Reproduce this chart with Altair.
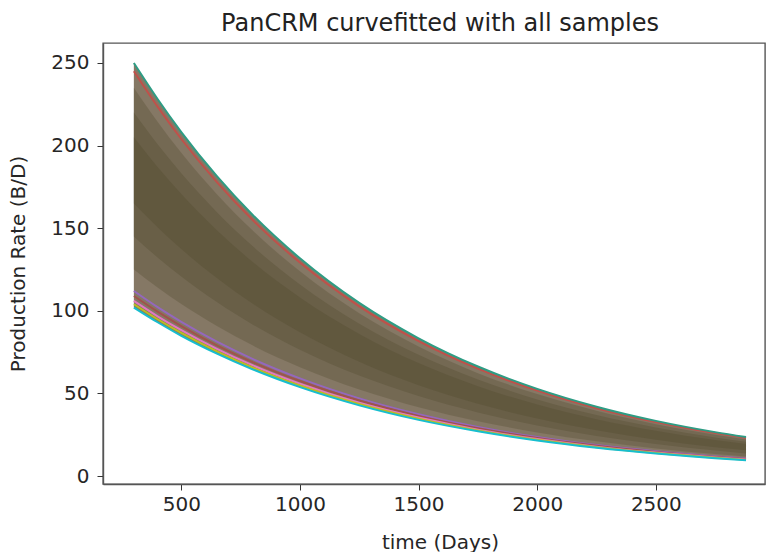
import altair as alt
import pandas as pd

# time points (days)
times = [300, 400, 500, 650, 800, 1000, 1250, 1500, 1750, 2000, 2250, 2500, 2750, 2880]

# edge curves of the bundle of fitted samples (B/D)
top_teal   = [250, 228.2, 208.2, 181.5, 158.2, 131.8, 104.8, 83.4, 66.3, 52.8, 42.0, 33.4, 26.6, 23.6]
top_red    = [245, 223.6, 204.0, 177.9, 155.1, 129.2, 102.7, 81.7, 65.0, 51.7, 41.1, 32.7, 26.0, 23.1]
low_purple = [112, 102.2, 93.3, 81.3, 70.9, 59.1, 47.0, 37.4, 29.7, 23.6, 18.8, 15.0, 11.9, 10.6]
low_brown  = [109, 99.5, 90.8, 79.1, 69.0, 57.5, 45.7, 36.4, 28.9, 23.0, 18.3, 14.6, 11.6, 10.3]
low_pink   = [106, 96.7, 88.3, 77.0, 67.1, 55.9, 44.4, 35.4, 28.1, 22.4, 17.8, 14.2, 11.3, 10.0]
low_olive  = [104, 94.9, 86.6, 75.5, 65.8, 54.8, 43.6, 34.7, 27.6, 22.0, 17.5, 13.9, 11.1, 9.8]
low_cyan   = [102, 93.1, 84.9, 74.1, 64.6, 53.8, 42.8, 34.0, 27.1, 21.5, 17.1, 13.6, 10.8, 9.6]

# progressively denser cores of the bundle (where most sample curves overlap)
core1_low  = [125, 114.1, 104.1, 90.8, 79.1, 65.9, 52.4, 41.7, 33.2, 26.4, 21.0, 16.7, 13.3, 11.8]
core1_high = [235, 214.5, 195.7, 170.6, 148.7, 123.9, 98.5, 78.4, 62.3, 49.6, 39.5, 31.4, 25.0, 22.2]
core2_low  = [145, 132.3, 120.8, 105.3, 91.8, 76.5, 60.8, 48.4, 38.5, 30.6, 24.3, 19.4, 15.4, 13.7]
core2_high = [220, 200.8, 183.2, 159.7, 139.2, 116.0, 92.2, 73.4, 58.4, 46.4, 36.9, 29.4, 23.4, 20.8]
core3_low  = [165, 150.6, 137.4, 119.8, 104.4, 87.0, 69.2, 55.0, 43.8, 34.8, 27.7, 22.0, 17.5, 15.6]
core3_high = [205, 187.1, 170.7, 148.8, 129.7, 108.1, 86.0, 68.4, 54.4, 43.3, 34.4, 27.4, 21.8, 19.4]

curve_names = ["low_purple", "low_brown", "low_pink", "low_olive", "low_cyan", "top_red", "top_teal"]
curve_vals = [low_purple, low_brown, low_pink, low_olive, low_cyan, top_red, top_teal]
curve_colors = ["#9467bd", "#a0524b", "#e377c2", "#bcbd22", "#17becf", "#c0504a", "#2e9c84"]

rows = []
for name, vals in zip(curve_names, curve_vals):
    for t, q in zip(times, vals):
        rows.append({"t": t, "q": q, "curve": name})
lines_df = pd.DataFrame(rows)

band_df = pd.DataFrame({"t": times, "lo": low_cyan, "hi": top_teal})
core_dfs = [
    pd.DataFrame({"t": times, "lo": core1_low, "hi": core1_high}),
    pd.DataFrame({"t": times, "lo": core2_low, "hi": core2_high}),
    pd.DataFrame({"t": times, "lo": core3_low, "hi": core3_high}),
]

FONT = "DejaVu Sans"
xscale = alt.Scale(domain=[170, 2960], nice=False, zero=False)
yscale = alt.Scale(domain=[-4.8, 262.1], nice=False, zero=False)

xaxis = alt.Axis(title="time (Days)", values=[500, 1000, 1500, 2000, 2500], format="d", grid=False,
                 tickSize=6, tickColor="#333", domainColor="#555", domainWidth=1.4,
                 labelPadding=4, labelFontSize=20, labelFont=FONT, labelColor="#262626",
                 titleFont=FONT, titleFontSize=20, titleFontWeight="normal", titleColor="#262626",
                 titlePadding=18, titleX=337)
yaxis = alt.Axis(title="Production Rate (B/D)", values=[0, 50, 100, 150, 200, 250], grid=False,
                 tickSize=6, tickColor="#333", domainColor="#555", domainWidth=1.4,
                 labelPadding=8, labelFontSize=20, labelFont=FONT, labelColor="#262626",
                 titleFont=FONT, titleFontSize=20, titleFontWeight="normal", titleColor="#262626",
                 titlePadding=22)

band = alt.Chart(band_df).mark_area(color="#857865", interpolate="monotone", opacity=1).encode(
    x=alt.X("t:Q", scale=xscale, axis=xaxis),
    y=alt.Y("lo:Q", scale=yscale, axis=yaxis),
    y2="hi:Q",
)
cores = [
    alt.Chart(df).mark_area(color="#4f4a2c", interpolate="monotone", opacity=0.3).encode(
        x=alt.X("t:Q", scale=xscale),
        y=alt.Y("lo:Q", scale=yscale),
        y2="hi:Q",
    )
    for df in core_dfs
]
lines = alt.Chart(lines_df).mark_line(interpolate="monotone", strokeWidth=2.0).encode(
    x=alt.X("t:Q", scale=xscale),
    y=alt.Y("q:Q", scale=yscale),
    color=alt.Color("curve:N", scale=alt.Scale(domain=curve_names, range=curve_colors), legend=None),
    detail="curve:N",
)

chart = alt.layer(band, *cores, lines).properties(
    width=662,
    height=441,
    title=alt.TitleParams("PanCRM curvefitted with all samples", font=FONT, fontSize=24,
                          fontWeight="normal", color="#222", anchor="middle", offset=7, dx=6),
    padding={"left": 103, "top": 43, "right": 2, "bottom": 68},
    autosize="none",
).configure_view(stroke="#555", strokeWidth=1.4)

chart.save("out.html", embed_options={"renderer": "svg", "actions": False})
